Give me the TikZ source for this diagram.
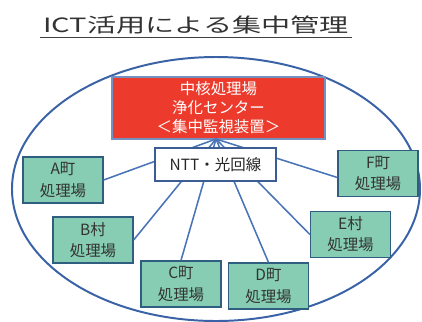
\documentclass[tikz,border=0pt]{standalone}
\usepackage{fontspec}
\setmainfont{Noto Sans CJK JP}
\usetikzlibrary{positioning}
\definecolor{hubred}{HTML}{EC3B2C}
\definecolor{siteg}{HTML}{86CDB4}
\definecolor{siteb}{HTML}{2F5E80}
\definecolor{netb}{HTML}{4A74B8}
\definecolor{ringb}{HTML}{3A62A6}
\begin{document}
\begin{tikzpicture}[x=0.25mm,y=-0.25mm,
						site/.style={draw=siteb,line width=0.9pt,fill=siteg,text=black!80,minimum width=20mm,minimum height=11.5mm,align=center,inner sep=0pt,font=\fontsize{11}{15}\selectfont},
						hub/.style={draw=ringb!70,line width=0.8pt,fill=hubred,text=white,minimum width=53.25mm,minimum height=15.5mm,align=center,inner sep=0pt,font=\fontsize{11}{13.5}\selectfont},
						net/.style={draw=netb!80!black,line width=0.9pt,fill=white,text=black!85,minimum width=30.25mm,minimum height=8.25mm,inner sep=0pt,font=\fontsize{11}{13}\selectfont},
						link/.style={netb,line width=1.1pt}]
		\useasboundingbox (0,0) rectangle (422,321);

		% title
		\node[text=black!80,font=\fontsize{14}{16}\selectfont,xscale=1.48,inner sep=0pt] (title) at (196,25) {ICT活用による集中管理};
		\draw[black!75,line width=1.4pt] (40,37.5) -- (352,37.5);

		% area
		\draw[ringb,line width=1.4pt] (216,189) ellipse [x radius=204,y radius=132];

		\node[hub]				(0)	at (218.5,108)	{中核処理場\\浄化センター\\＜集中監視装置＞};
		\coordinate				(h)	at (216,139);

		\node[site]				(a)	at (63,180)		{A町\\処理場};
		\node[site]				(b)	at (93,240)		{B村\\処理場};
		\node[site]				(c)	at (181,284)	{C町\\処理場};
		\node[site]				(d)	at (268.5,286)	{D町\\処理場};
		\node[site]				(e)	at (350.5,234.5){E村\\処理場};
		\node[site]				(f)	at (378,173.5)	{F町\\処理場};

		\draw[link] (h) -- (a.east);
		\draw[link] (h) -- (b.east);
		\draw[link] (h) -- (c.north);
		\draw[link] (h) -- (d.north);
		\draw[link] (h) -- (e.west);
		\draw[link] (h) -- ([yshift=-1mm]f.west);

		\node[net]				(n)	at (215.5,164.5){NTT・光回線};
	\end{tikzpicture}
\end{document}
